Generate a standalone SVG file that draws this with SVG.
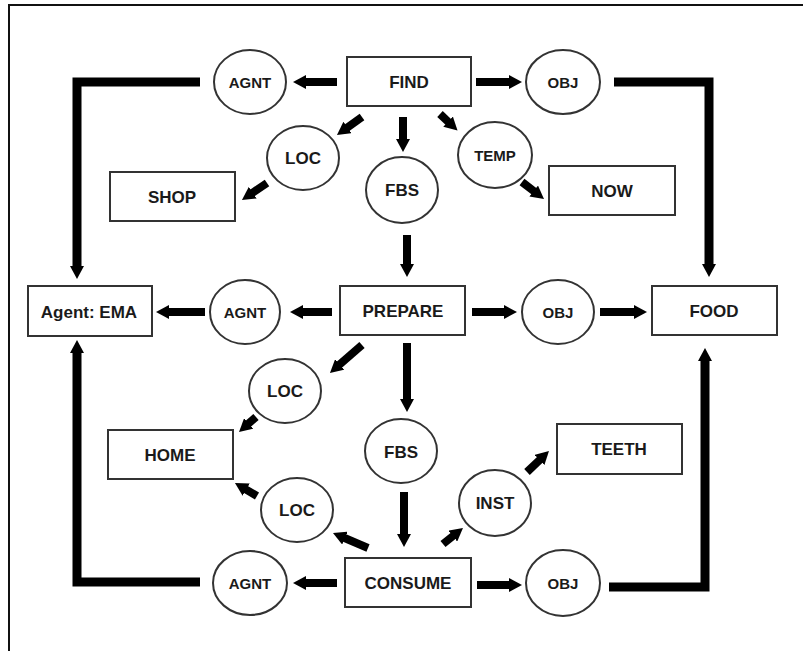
<svg xmlns="http://www.w3.org/2000/svg" width="803" height="651" viewBox="0 0 803 651">
<defs>
<marker id="ah" viewBox="0 0 13 14" refX="1" refY="7" markerWidth="13" markerHeight="14" markerUnits="userSpaceOnUse" orient="auto"><path d="M0,0 L13,7 L0,14 z" fill="#000"/></marker>
<style>
.box{fill:#fff;stroke:#333;stroke-width:2}
.rel{fill:#fff;stroke:#333;stroke-width:2}
.t{font-family:"Liberation Sans",Arial,sans-serif;font-weight:bold;fill:#1a1a1a;text-anchor:middle;dominant-baseline:central}
.b{font-size:17px}
.c{font-size:15px}
.cl{font-size:17px}
.a{stroke:#000;stroke-width:8;fill:none;marker-end:url(#ah)}
.l{stroke:#000;stroke-width:9;fill:none;stroke-linejoin:miter;marker-end:url(#ah)}
</style>
</defs>
<rect width="803" height="651" fill="#fff"/>
<path d="M9,651 V5 H803" fill="none" stroke="#111" stroke-width="2"/>
<g id="connectors">
<path class="l" d="M200,82 H77 V267"/>
<path class="l" d="M614,82 H709 V265"/>
<path class="l" d="M200,582 H77 V352"/>
<path class="l" d="M609,587 H705 V360"/>
<line class="a" x1="337" y1="82" x2="305" y2="82"/>
<line class="a" x1="476" y1="82" x2="510" y2="82"/>
<line class="a" x1="362" y1="117" x2="346.7" y2="128"/>
<line class="a" x1="403" y1="117" x2="403" y2="140"/>
<line class="a" x1="440" y1="114" x2="448.8" y2="122.3"/>
<line class="a" x1="267" y1="183" x2="251.9" y2="193.2"/>
<line class="a" x1="522" y1="182" x2="534.5" y2="191.7"/>
<line class="a" x1="407" y1="235" x2="407" y2="265"/>
<line class="a" x1="332" y1="312" x2="302" y2="312"/>
<line class="a" x1="205" y1="312" x2="168" y2="312"/>
<line class="a" x1="472" y1="312" x2="505" y2="312"/>
<line class="a" x1="600" y1="312" x2="635" y2="312"/>
<line class="a" x1="362" y1="345" x2="339" y2="365.1"/>
<line class="a" x1="407" y1="343" x2="407" y2="400"/>
<line class="a" x1="256" y1="417" x2="248" y2="424.1"/>
<line class="a" x1="404" y1="492" x2="404" y2="535"/>
<line class="a" x1="368" y1="548" x2="344" y2="537.7"/>
<line class="a" x1="257" y1="496" x2="245.3" y2="489.1"/>
<line class="a" x1="443" y1="544" x2="453.6" y2="535.5"/>
<line class="a" x1="527" y1="472" x2="540.3" y2="459.3"/>
<line class="a" x1="337" y1="583" x2="305" y2="583"/>
<line class="a" x1="477" y1="585" x2="510" y2="585"/>
</g>
<g id="find"><rect class="box" x="347" y="57" width="124" height="49"/><text class="t b" x="409" y="82">FIND</text></g>
<g id="agnt1"><ellipse class="rel" cx="250" cy="82" rx="36" ry="32"/><text class="t c" x="250" y="82">AGNT</text></g>
<g id="obj1"><ellipse class="rel" cx="563" cy="82" rx="37" ry="32"/><text class="t c" x="563" y="82">OBJ</text></g>
<g id="loc1"><ellipse class="rel" cx="303" cy="158" rx="36" ry="32"/><text class="t cl" x="303" y="158">LOC</text></g>
<g id="fbs1"><ellipse class="rel" cx="402" cy="190" rx="36" ry="33"/><text class="t cl" x="402" y="190">FBS</text></g>
<g id="temp"><ellipse class="rel" cx="495" cy="155" rx="37" ry="33"/><text class="t c" x="495" y="155">TEMP</text></g>
<g id="shop"><rect class="box" x="110" y="172" width="125" height="49"/><text class="t b" x="172" y="197">SHOP</text></g>
<g id="now"><rect class="box" x="549" y="166" width="126" height="49"/><text class="t b" x="612" y="191">NOW</text></g>
<g id="agent"><rect class="box" x="28" y="286" width="124" height="50"/><text class="t b" x="89" y="312">Agent: EMA</text></g>
<g id="agnt2"><ellipse class="rel" cx="245" cy="312" rx="35" ry="32"/><text class="t c" x="245" y="312">AGNT</text></g>
<g id="prepare"><rect class="box" x="340" y="286" width="125" height="49"/><text class="t b" x="403" y="311">PREPARE</text></g>
<g id="obj2"><ellipse class="rel" cx="558" cy="312" rx="36" ry="32"/><text class="t c" x="558" y="312">OBJ</text></g>
<g id="food"><rect class="box" x="652" y="286" width="125" height="49"/><text class="t b" x="714" y="311">FOOD</text></g>
<g id="loc2"><ellipse class="rel" cx="285" cy="391" rx="36" ry="32"/><text class="t cl" x="285" y="391">LOC</text></g>
<g id="home"><rect class="box" x="108" y="430" width="125" height="49"/><text class="t b" x="170" y="455">HOME</text></g>
<g id="fbs2"><ellipse class="rel" cx="401" cy="451" rx="36" ry="32"/><text class="t cl" x="401" y="452">FBS</text></g>
<g id="teeth"><rect class="box" x="557" y="424" width="125" height="50"/><text class="t b" x="619" y="449">TEETH</text></g>
<g id="loc3"><ellipse class="rel" cx="297" cy="510" rx="36" ry="32"/><text class="t cl" x="297" y="510">LOC</text></g>
<g id="inst"><ellipse class="rel" cx="495" cy="503" rx="36" ry="33"/><text class="t cl" x="495" y="503">INST</text></g>
<g id="agnt3"><ellipse class="rel" cx="250" cy="583" rx="37" ry="32"/><text class="t c" x="250" y="583">AGNT</text></g>
<g id="consume"><rect class="box" x="345" y="558" width="126" height="49"/><text class="t b" x="408" y="583">CONSUME</text></g>
<g id="obj3"><ellipse class="rel" cx="563" cy="583" rx="37" ry="33"/><text class="t c" x="563" y="583">OBJ</text></g>
</svg>
